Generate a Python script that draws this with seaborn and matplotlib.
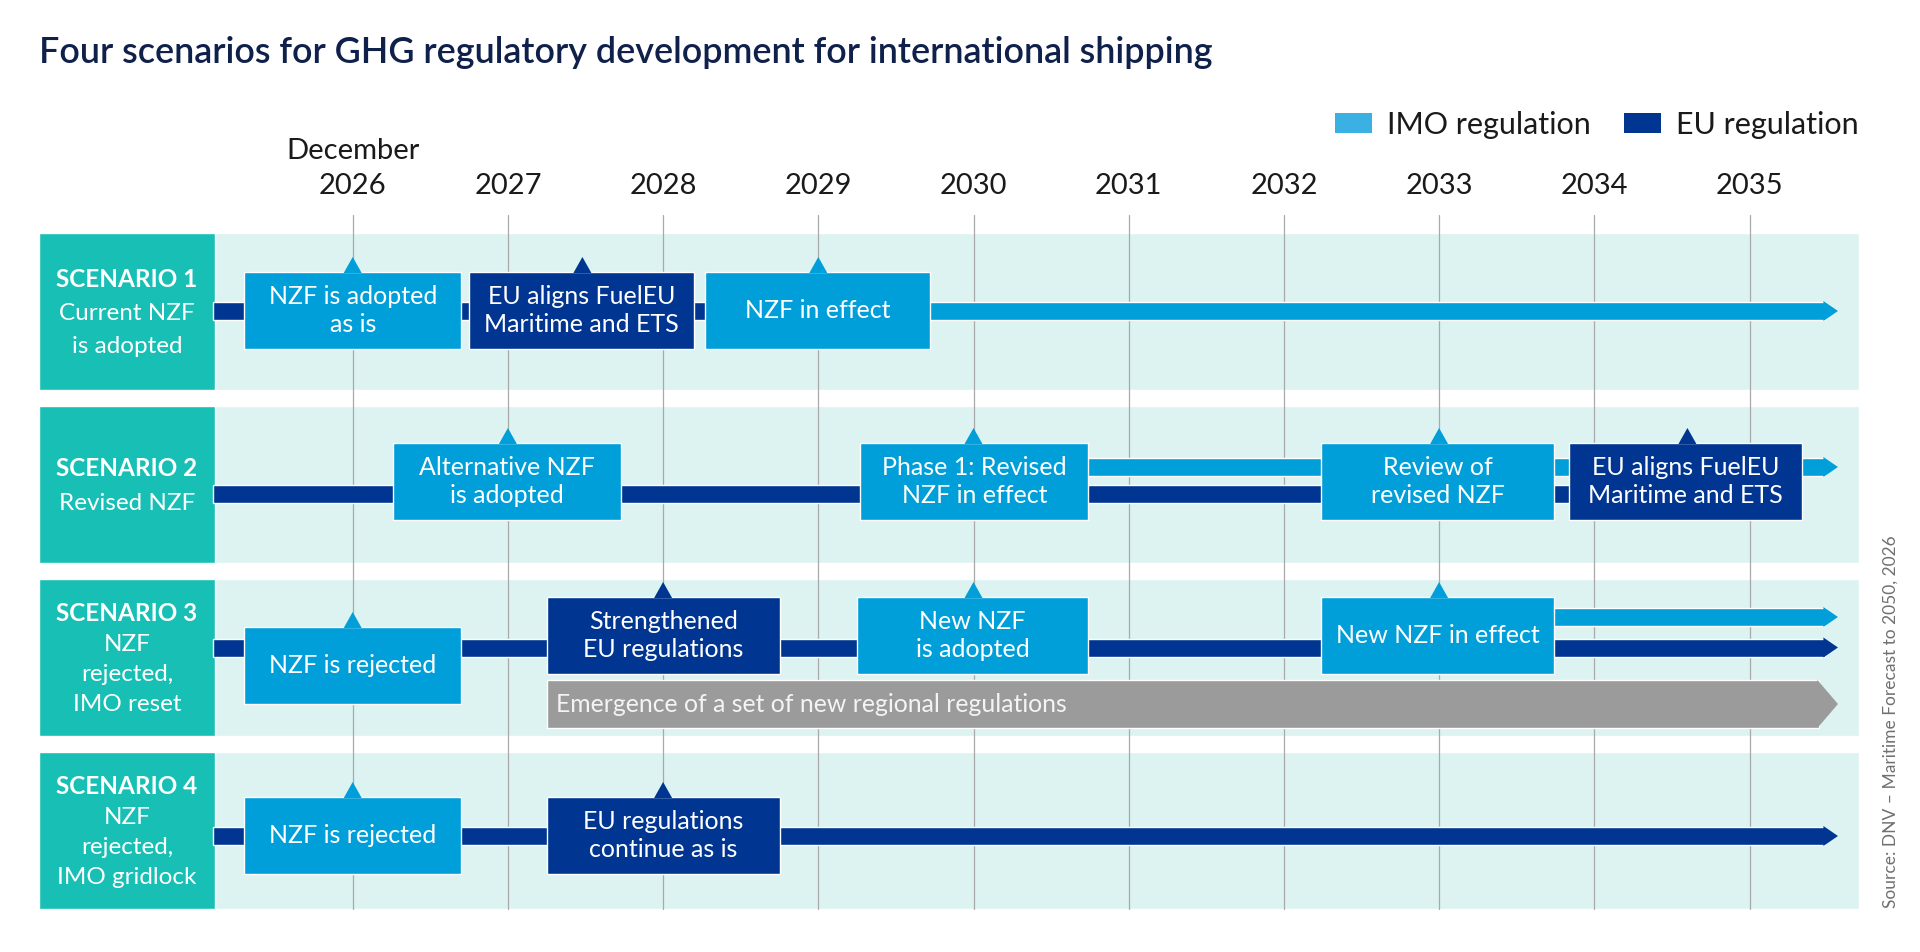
import numpy as np
import pandas as pd
import matplotlib
matplotlib.use("Agg")
import matplotlib.pyplot as plt
from matplotlib.patches import Polygon, Patch
import seaborn as sns

# ---- datos del grafico ----
years = list(range(2026, 2036))
first_year_note = "December"

scen_head = ["SCENARIO 1", "SCENARIO 2", "SCENARIO 3", "SCENARIO 4"]
scen_sub = [["Current NZF", "is adopted"], ["Revised NZF"],
            ["NZF", "rejected,", "IMO reset"], ["NZF", "rejected,", "IMO gridlock"]]

# cajas de eventos
ev_row = [0, 0, 0, 1, 1, 1, 1, 2, 2, 2, 2, 3, 3]
ev_kind = ["IMO", "EU", "IMO", "IMO", "IMO", "IMO", "EU", "IMO", "EU", "IMO", "IMO", "IMO", "EU"]
ev_text = ["NZF is adopted\nas is", "EU aligns FuelEU\nMaritime and ETS", "NZF in effect",
           "Alternative NZF\nis adopted", "Phase 1: Revised\nNZF in effect", "Review of\nrevised NZF",
           "EU aligns FuelEU\nMaritime and ETS",
           "NZF is rejected", "Strengthened\nEU regulations", "New NZF\nis adopted", "New NZF in effect",
           "NZF is rejected", "EU regulations\ncontinue as is"]
ev_start = [2025.30, 2026.75, 2028.27, 2026.26, 2029.27, 2032.24, 2033.84,
            2025.30, 2027.25, 2029.25, 2032.24, 2025.30, 2027.25]
ev_end = [2026.70, 2028.20, 2029.72, 2027.73, 2030.74, 2033.74, 2035.34,
          2026.70, 2028.75, 2030.74, 2033.74, 2026.70, 2028.75]
ev_mark = [2026, 2027.48, 2029, 2027, 2030, 2033, 2034.6, 2026, 2028, 2030, 2033, 2026, 2028]

# lineas de tiempo (IMO / EU)
tl_row = [0, 0, 1, 1, 2, 2, 3]
tl_kind = ["EU", "IMO", "EU", "IMO", "EU", "IMO", "EU"]
tl_start = [2025.1, 2029.5, 2025.1, 2030.5, 2025.1, 2033.5, 2025.1]
tl_end = [2028.5, 2035.57, 2034.0, 2035.57, 2035.57, 2035.57, 2035.57]
tl_arrow = [False, True, False, True, True, True, True]

# regulaciones regionales (barra gris)
reg_row = 2
reg_text = "Emergence of a set of new regional regulations"
reg_start = 2027.25
reg_end = 2035.57

title = "Four scenarios for GHG regulatory development for international shipping"
source = "Source: DNV \u2013 Maritime Forecast to 2050, 2026"
legend_labels = ["IMO regulation", "EU regulation"]

# ---- layout (px) ----
W, H = 1920, 952
x2026_px, px_year = 352.7, 155.2
def px2yr(p):
    return 2026 + (p - x2026_px) / px_year

band_top = [233, 406, 579, 752]
band_h = 157
lane_off = {(0, "EU"): 78, (0, "IMO"): 78, (1, "EU"): 88, (1, "IMO"): 61,
            (2, "EU"): 68.5, (2, "IMO"): 38, (3, "EU"): 84}
box_top_off = [39, 39, 39, 37, 37, 37, 37, 48, 18, 18, 18, 45, 45]
box_h = 77
line_h = 18
tri_h, tri_half = 15, 9 / px_year
head_len, head_half = 13 / px_year, 10
reg_top_off, reg_h, reg_head = 101, 48, 19 / px_year
band_x0, label_x1, band_x1 = px2yr(39), px2yr(215), px2yr(1859)

sns.set_theme(style="white")
plt.rcParams["font.family"] = ["Lato", "DejaVu Sans"]

pal = dict(zip(["IMO", "EU"], sns.color_palette(["#009fda", "#003591"])))
band_col = "#dcf3f2"
label_col = "#17bfb5"
grid_col = "#a9a9a9"
gray_col = "#9b9b9b"
navy = "#0f204b"

fig = plt.figure(figsize=(19.2, 9.52), dpi=100)
ax = fig.add_axes([0, 0, 1, 1])
ax.set_xlim(px2yr(0), px2yr(W))
ax.set_ylim(H, 0)
ax.axis("off")

# bandas y etiquetas de escenario
for r in range(len(scen_head)):
    top = band_top[r]
    ax.barh(top + band_h / 2, band_x1 - band_x0, left=band_x0, height=band_h,
            color=band_col, zorder=0)
    ax.barh(top + band_h / 2, label_x1 - band_x0, left=band_x0, height=band_h,
            color=label_col, zorder=1)
    lines = [scen_head[r]] + scen_sub[r]
    n = len(lines)
    pitch = 33 if n <= 3 else 30
    cx = (band_x0 + label_x1) / 2
    for i, t in enumerate(lines):
        yc = top + band_h / 2 + (i - (n - 1) / 2) * pitch
        ax.text(cx, yc + 8.5, t, ha="center", va="baseline", color="white",
                fontsize=17.5, fontweight="bold" if i == 0 else "normal", zorder=6)

# lineas verticales de anios
for y in years:
    ax.plot([y, y], [215, band_top[-1] + band_h], color=grid_col, lw=0.9, zorder=2)
    ax.text(y, 194, str(y), ha="center", va="baseline", fontsize=21, color="#1a1a1a")
ax.text(years[0], 159, first_year_note, ha="center", va="baseline", fontsize=21, color="#1a1a1a")

# lineas de tiempo
for r, k, s, e, arr in zip(tl_row, tl_kind, tl_start, tl_end, tl_arrow):
    yc = band_top[r] + lane_off[(r, k)]
    shaft_end = e - head_len if arr else e
    ax.barh(yc, shaft_end - s, left=s, height=line_h, color=pal[k], zorder=3)
    if arr:
        ax.add_patch(Polygon([(shaft_end - 0.01, yc - head_half), (e, yc),
                              (shaft_end - 0.01, yc + head_half)],
                             closed=True, color=pal[k], lw=0, zorder=3))

# barra gris
gy = band_top[reg_row] + reg_top_off + reg_h / 2
ax.barh(gy, reg_end - reg_head - reg_start, left=reg_start, height=reg_h, color=gray_col, zorder=3)
ax.add_patch(Polygon([(reg_end - reg_head - 0.01, gy - reg_h / 2), (reg_end, gy),
                      (reg_end - reg_head - 0.01, gy + reg_h / 2)],
                     closed=True, color=gray_col, lw=0, zorder=3))
ax.text(reg_start + 9 / px_year, gy, reg_text, ha="left", va="center",
        fontsize=17.8, color="#f4f4f4", zorder=6)

# cajas de eventos
for r, k, t, s, e, m, bt in zip(ev_row, ev_kind, ev_text, ev_start, ev_end, ev_mark, box_top_off):
    top = band_top[r] + bt
    ax.barh(top + box_h / 2, e - s, left=s, height=box_h, color=pal[k], zorder=4)
    ax.add_patch(Polygon([(m - tri_half, top + 1), (m, top - tri_h), (m + tri_half, top + 1)],
                         closed=True, color=pal[k], lw=0, zorder=4))
    ax.text((s + e) / 2, top + box_h / 2, t, ha="center", va="center", color="white",
            fontsize=18, linespacing=1.3, zorder=6)

# titulo, leyenda, fuente
fig.text(39 / W, 1 - 63 / H, title, ha="left", va="baseline", fontsize=25.8,
         fontweight="semibold", color=navy)
handles = [Patch(facecolor="#3bb0e3", edgecolor="none"), Patch(facecolor=pal["EU"], edgecolor="none")]
fig.legend(handles, legend_labels, ncol=2, frameon=False, fontsize=22,
           loc="center right", bbox_to_anchor=(1859 / W, 1 - 125 / H),
           handlelength=1.2, handleheight=0.65, handletextpad=0.5, columnspacing=1.1,
           borderpad=0, borderaxespad=0, labelcolor="#1a1a1a")
fig.text(1891 / W, 1 - 722 / H, source, rotation=90, ha="center", va="center",
         fontsize=12.5, color="#707070")

fig.savefig("out.png", dpi=100)
